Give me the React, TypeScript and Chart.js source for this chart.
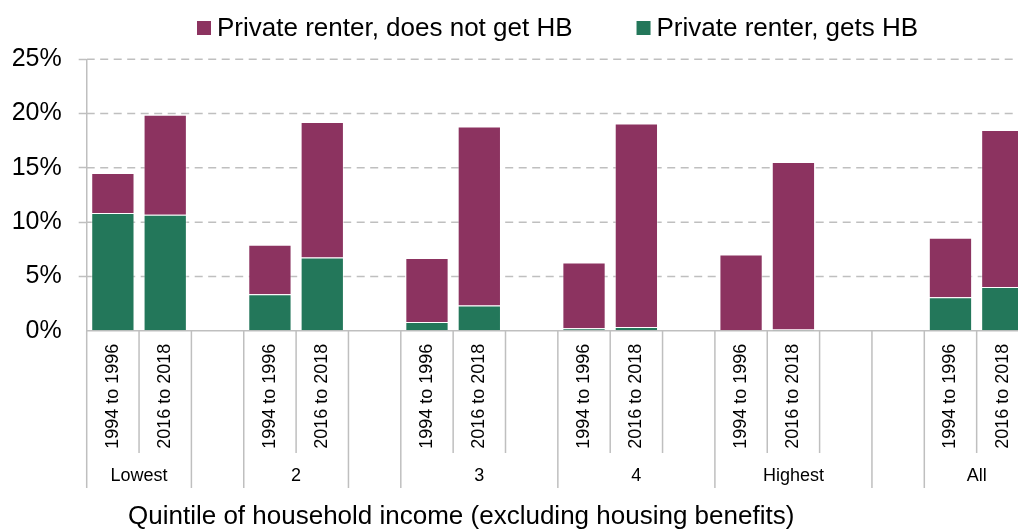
import React, { useEffect, useRef } from "react";
import { Chart, registerables } from "chart.js";

Chart.register(...registerables);

// Bottom-level categories (one slot each; blanks are spacer slots)
const periodLabels = [
  "1994 to 1996", "2016 to 2018", "",
  "1994 to 1996", "2016 to 2018", "",
  "1994 to 1996", "2016 to 2018", "",
  "1994 to 1996", "2016 to 2018", "",
  "1994 to 1996", "2016 to 2018", "",
  "",
  "1994 to 1996", "2016 to 2018",
];

// Second-level (quintile) groups and the number of slots each spans
const groupLabels = ["Lowest", "", "2", "", "3", "4", "Highest", "", "All"];
const groupSpans = [2, 1, 2, 1, 3, 3, 3, 1, 2];

// Series values (%)
const getsHB = [10.84, 10.68, null, 3.35, 6.75, null, 0.8, 2.33, null, 0.22, 0.34, null, 0.03, 0.1, null, null, 3.07, 4.02];
const noHB = [3.68, 9.21, null, 4.56, 12.48, null, 5.89, 16.47, null, 6.07, 18.74, null, 7.0, 15.45, null, null, 5.49, 14.47];

const seriesNames = ["Private renter, does not get HB", "Private renter, gets HB"];
const yTicks = [0, 5, 10, 15, 20, 25];

const PURPLE = "#8C3360";
const GREEN = "#23775A";
const AXIS_GREY = "#BFBFBF";
const FONT = "'Liberation Sans', Arial, sans-serif";
const xTitle = "Quintile of household income (excluding housing benefits)";

const overlayPlugin = {
  id: "overlay",
  beforeDatasetsDraw(chart: any) {
    const ctx = chart.ctx;
    const ys = chart.scales.y;
    const { left, right } = chart.chartArea;
    ctx.save();
    ctx.strokeStyle = AXIS_GREY;
    ctx.lineWidth = 1.5;
    ctx.setLineDash([8, 5.5]);
    yTicks.forEach((v) => {
      if (v === 0) return;
      const y = ys.getPixelForValue(v);
      ctx.beginPath();
      ctx.moveTo(left, y);
      ctx.lineTo(right, y);
      ctx.stroke();
    });
    ctx.restore();
  },
  afterDraw(chart: any) {
    const ctx = chart.ctx;
    const xs = chart.scales.x;
    const bottom = chart.chartArea.bottom;
    const px = (k: number) => xs.getPixelForValue(k - 0.5);

    // group boundaries
    const bounds = new Set<number>();
    let acc = 0;
    bounds.add(0);
    groupSpans.forEach((s) => {
      acc += s;
      bounds.add(acc);
    });

    ctx.save();
    ctx.strokeStyle = AXIS_GREY;
    ctx.lineWidth = 1.5;
    for (let k = 0; k <= periodLabels.length; k++) {
      const x = px(k);
      ctx.beginPath();
      ctx.moveTo(x, bottom);
      ctx.lineTo(x, bounds.has(k) ? 488 : 453);
      ctx.stroke();
    }

    // group labels
    ctx.fillStyle = "#000";
    ctx.font = `18px ${FONT}`;
    ctx.textAlign = "center";
    ctx.textBaseline = "middle";
    let start = 0;
    groupLabels.forEach((g, i) => {
      const end = start + groupSpans[i];
      if (g) ctx.fillText(g, (px(start) + px(end)) / 2, 476);
      start = end;
    });

    // axis title
    ctx.font = `26px ${FONT}`;
    ctx.textAlign = "left";
    ctx.textBaseline = "alphabetic";
    ctx.fillText(xTitle, 128, 524);

    // legend
    const colors = [PURPLE, GREEN];
    let lx = 197;
    const ly = 28;
    ctx.textBaseline = "middle";
    seriesNames.forEach((name, i) => {
      ctx.fillStyle = colors[i];
      ctx.fillRect(lx, ly - 7, 14, 14);
      ctx.fillStyle = "#000";
      ctx.fillText(name, lx + 20, ly + 1);
      lx += 20 + ctx.measureText(name).width + 64;
    });
    ctx.restore();
  },
};

export default function App() {
  const ref = useRef<HTMLCanvasElement>(null);

  useEffect(() => {
    if (!ref.current) return;
    const chart = new Chart(ref.current, {
      type: "bar",
      data: {
        labels: periodLabels,
        datasets: [
          {
            label: seriesNames[1],
            data: getsHB,
            backgroundColor: GREEN,
            borderColor: "rgba(255,255,255,0.45)",
            borderWidth: 1,
            barPercentage: 0.827,
            categoryPercentage: 1,
          },
          {
            label: seriesNames[0],
            data: noHB,
            backgroundColor: PURPLE,
            borderColor: "rgba(255,255,255,0.45)",
            borderWidth: 1,
            barPercentage: 0.827,
            categoryPercentage: 1,
          },
        ],
      },
      options: {
        animation: false,
        responsive: true,
        maintainAspectRatio: false,
        layout: { padding: { top: 59.3, right: 11, left: 0, bottom: 0 } },
        plugins: { legend: { display: false }, tooltip: { enabled: false } },
        scales: {
          x: {
            type: "category",
            stacked: true,
            offset: true,
            grid: { display: false },
            border: { display: true, color: AXIS_GREY, width: 1.5 },
            ticks: {
              autoSkip: false,
              minRotation: 90,
              maxRotation: 90,
              padding: 5,
              color: "#000",
              font: { family: FONT, size: 18 },
            },
            afterFit(scale: any) {
              scale.height = 529 - 330.7;
              scale.paddingLeft = 0;
              scale.paddingRight = 0;
            },
          },
          y: {
            stacked: true,
            min: 0,
            max: 25,
            afterBuildTicks(scale: any) {
              scale.ticks = yTicks.map((v) => ({ value: v }));
            },
            grid: {
              drawOnChartArea: false,
              drawTicks: true,
              tickLength: 8,
              tickColor: (c: any) => (c.tick && c.tick.value === 0 ? "rgba(0,0,0,0)" : AXIS_GREY),
              tickWidth: 1.5,
            },
            border: { display: true, color: AXIS_GREY, width: 1.5 },
            ticks: {
              padding: 17,
              color: "#000",
              font: { family: FONT, size: 25 },
              callback: (v: any) => `${v}%`,
            },
            afterFit(scale: any) {
              scale.width = 86.7;
              scale.paddingTop = 0;
              scale.paddingBottom = 0;
            },
          },
        },
      },
      plugins: [overlayPlugin],
    });
    return () => chart.destroy();
  }, []);

  return (
    <div style={{ position: "fixed", left: 0, top: 0, width: 1040, height: 529, background: "#fff" }}>
      <canvas ref={ref} />
    </div>
  );
}
